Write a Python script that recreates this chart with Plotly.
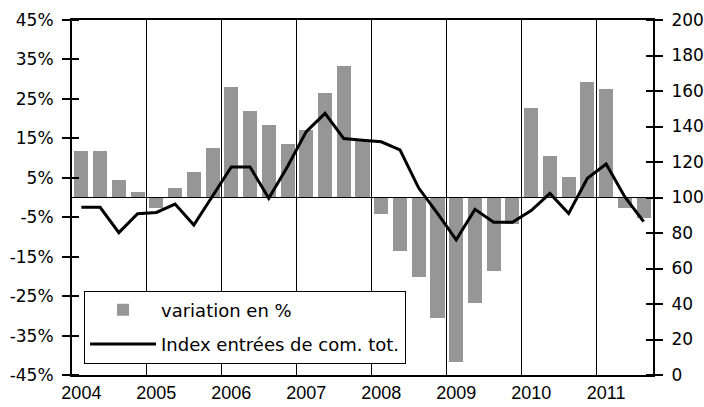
import plotly.graph_objects as go

years = ["2004", "2005", "2006", "2007", "2008", "2009", "2010", "2011"]
quarters = list(range(31))  # 2004 Q1 .. 2011 Q3

variation = [11.8, 11.8, 4.4, 1.3, -2.7, 2.5, 6.5, 12.6,
             28.0, 21.9, 18.3, 13.5, 17.0, 26.4, 33.3, 14.3,
             -4.3, -13.6, -20.2, -30.6, -41.6, -26.7, -18.6, -6.8,
             22.8, 10.6, 5.3, 29.3, 27.6, -2.7, -5.1]

index_tot = [94.5, 94.5, 80.2, 90.9, 91.6, 96.3, 84.5, 100.7,
             117.2, 117.2, 99.6, 117.5, 137.1, 147.4, 133.2, 132.2,
             131.4, 126.8, 105.3, 91.0, 76.2, 93.3, 86.0, 86.0,
             92.6, 102.3, 91.0, 110.8, 118.9, 100.3, 86.4]

left_ticks = list(range(-45, 46, 10))
right_ticks = list(range(0, 201, 20))

year_ticks = [i * 4 for i in range(len(years))]
year_bounds = [i * 4 - 0.5 for i in range(1, len(years))]

GRAY = "#969696"
FONT = "DejaVu Sans"

fig = go.Figure()
fig.add_trace(go.Bar(
    x=quarters, y=variation, name="variation en %",
    marker=dict(color=GRAY, line=dict(width=0)), width=0.75,
    xaxis="x", yaxis="y", legendgroup="a",
))
fig.add_trace(go.Scatter(
    x=quarters, y=index_tot, name="Index entrées de com. tot.",
    mode="lines", line=dict(color="black", width=3),
    xaxis="x", yaxis="y2", legendgroup="b",
))

# inner halves of the crossing tick marks (minor ticks, a hair off the major ones)
inner_left = [v + 0.001 for v in left_ticks]
inner_right = [v + 0.002 for v in right_ticks]

xr = [-0.5, 30.5]
fig.update_layout(
    width=704, height=407,
    margin=dict(l=72, r=51, t=20, b=32, pad=0),
    paper_bgcolor="white", plot_bgcolor="white",
    showlegend=True,
    bargap=0,
    xaxis=dict(
        range=xr, tickmode="array", tickvals=year_ticks, ticktext=years,
        showgrid=False, zeroline=False, showline=True, linecolor="black",
        linewidth=1.5, mirror=True, ticks="", ticklabelstandoff=1,
        tickfont=dict(family="Liberation Sans", size=18, color="black"),
        minor=dict(tickmode="array", tickvals=year_bounds, showgrid=True,
                   gridcolor="black", gridwidth=1, ticks=""),
        automargin=False,
    ),
    yaxis=dict(
        range=[-45, 45], tickmode="array", tickvals=left_ticks,
        ticktext=[f"{v}%" for v in left_ticks],
        showgrid=False, zeroline=False, showline=True, linecolor="black",
        linewidth=2, ticks="outside", ticklen=8, tickwidth=1.5,
        tickcolor="black", ticklabelstandoff=5,
        tickfont=dict(family=FONT, size=17, color="black"),
        minor=dict(tickmode="array", tickvals=inner_left, ticks="inside",
                   ticklen=7, tickwidth=1.5, tickcolor="black",
                   showgrid=False),
        automargin=False,
    ),
    yaxis2=dict(
        range=[0, 200], tickmode="array", tickvals=right_ticks,
        overlaying="y", side="right",
        showgrid=False, zeroline=False, showline=True, linecolor="black",
        linewidth=2, ticks="outside", ticklen=8, tickwidth=1.5,
        tickcolor="black", ticklabelstandoff=5,
        tickfont=dict(family=FONT, size=17, color="black"),
        minor=dict(tickmode="array", tickvals=inner_right, ticks="inside",
                   ticklen=7, tickwidth=1.5, tickcolor="black",
                   showgrid=False),
        automargin=False,
    ),
    legend=dict(
        x=0.0207, y=0.238, xanchor="left", yanchor="top",
        bgcolor="white", bordercolor="black", borderwidth=1,
        font=dict(family=FONT, size=18, color="black"),
        tracegroupgap=8, traceorder="grouped", itemwidth=66,
    ),
    shapes=[dict(type="line", xref="paper", x0=0, x1=1, yref="y",
                 y0=0, y1=0, line=dict(color="black", width=1),
                 layer="above")],
)

fig.write_html("out.html", config={"displayModeBar": False},
               post_script="document.body.style.margin='0';")
